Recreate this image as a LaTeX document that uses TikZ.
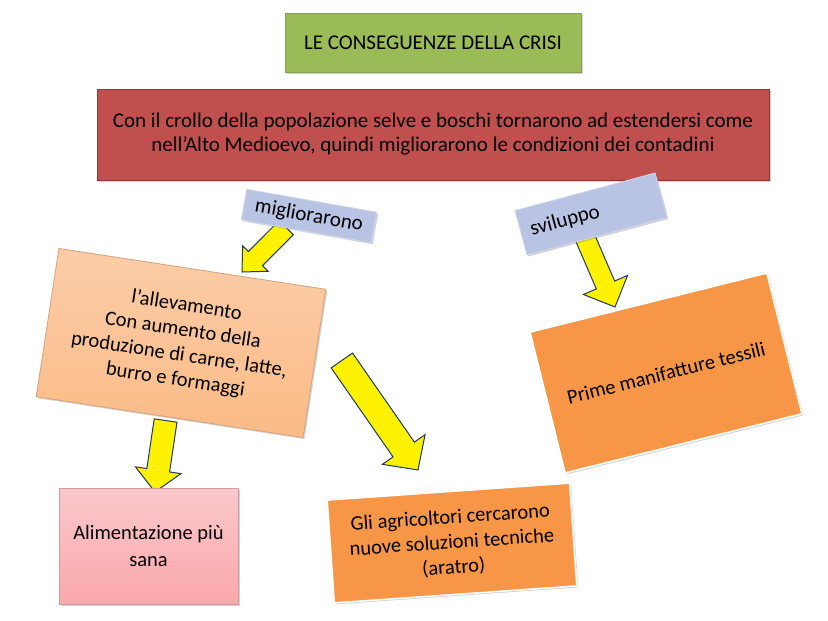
\documentclass[tikz,border=0pt]{standalone}
\usepackage{fontspec}
\setmainfont{Carlito}
\usetikzlibrary{calc,shadows}
\pgfdeclarelayer{sotto}
\pgfsetlayers{sotto,main}
\definecolor{verde}{RGB}{155,187,89}
\definecolor{verdebordo}{RGB}{135,165,80}
\definecolor{rosso}{RGB}{192,80,77}
\definecolor{rossobordo}{RGB}{140,56,54}
\definecolor{azzurro}{RGB}{185,196,228}
\definecolor{pesca}{RGB}{250,192,146}
\definecolor{rosa}{RGB}{249,182,186}
\definecolor{arancio}{RGB}{247,150,70}
\definecolor{blu}{RGB}{31,56,100}
\tikzset{
	base/.style={align=center, inner sep=4pt, line width=0.8pt,
		drop shadow={shadow xshift=1.5pt, shadow yshift=-1.5pt, opacity=0.35}},
	titolo/.style={base, fill=verde, draw=verdebordo, minimum width=296, minimum height=59,
		font=\fontsize{21}{25}\selectfont},
	crisi/.style={base, fill=rosso, draw=rossobordo, minimum width=672, minimum height=91,
		font=\fontsize{21}{24}\selectfont},
	etichetta/.style={base, fill=azzurro, draw=azzurro!70!white, font=\fontsize{21}{24}\selectfont},
	casella/.style={base, font=\fontsize{20.5}{25}\selectfont},
	freccia/.style={fill=yellow, draw=blu, line width=1pt, line join=miter},
}
\newcommand\freccia[5]{% coda, punta, mezzo fusto, mezza testa, testa
	\coordinate (collo) at ($(#2)!#5!(#1)$);
	\draw[freccia] ($(#1)!#3!90:(#2)$) -- ($(collo)!#3!90:(#2)$) -- ($(collo)!#4!90:(#2)$) -- (#2)
	-- ($(collo)!#4!-90:(#2)$) -- ($(collo)!#3!-90:(#2)$) -- ($(#1)!#3!-90:(#2)$) -- cycle;}
\begin{document}
\begin{tikzpicture}[x=1pt, y=1pt]
	\useasboundingbox (0,0) rectangle (828,-621);
	\node[titolo] (titolo) at (433,-43) {LE CONSEGUENZE DELLA CRISI};
	\node[crisi] (crisi) at (433,-134.5) {Con il crollo della popolazione selve e boschi tornarono ad estendersi come\\
		nell’Alto Medioevo, quindi migliorarono le condizioni dei contadini};
	\node[etichetta, minimum width=132, minimum height=31, rotate=-10] (migl) at (309,-216) {migliorarono};
	\node[etichetta, minimum width=145, minimum height=46, text width=125, align=left, rotate=15] (svil) at (591,-214) {sviluppo};
	\node[casella, top color=pesca!80!white, bottom color=pesca!92!orange, draw=pesca!85!black, minimum width=270, minimum height=150, rotate=-8.7] (alle) at (181,-343)
		{l’allevamento\\ Con aumento della\\ produzione di carne, latte,\\ burro e formaggi};
	\node[casella, top color=rosa!75!white, bottom color=rosa!92!red, draw=rosa!85!black, minimum width=179, minimum height=116, font=\fontsize{20.5}{27}\selectfont] (alim) at (148.5,-546)
		{Alimentazione più\\ sana};
	\node[casella, fill=arancio, draw=white, line width=1.5pt, minimum width=243, minimum height=103, rotate=4] (agri) at (452,-543)
		{Gli agricoltori cercarono\\ nuove soluzioni tecniche\\ (aratro)};
	\node[casella, fill=arancio, draw=white, line width=1.5pt, minimum width=244, minimum height=145, rotate=14] (prime) at (666,-373)
		{Prime manifatture tessili};
	\coordinate (p1) at (242,-272);
	\coordinate (p2) at (615,-307);
	\coordinate (p3) at (418,-470);
	\coordinate (p4) at (155,-492);
	\begin{pgfonlayer}{sotto}
		\freccia{$(migl.south)+(-20,4)$}{p1}{10pt}{18pt}{19pt}
		\freccia{$(svil.south)+(-12,-1)$}{p2}{10pt}{24pt}{24pt}
		\freccia{$(alle.east)+(27,3)$}{p3}{13pt}{26pt}{25pt}
		\freccia{$(alle.south)+(-4,-3)$}{p4}{11.5pt}{23pt}{22pt}
	\end{pgfonlayer}
\end{tikzpicture}
\end{document}
